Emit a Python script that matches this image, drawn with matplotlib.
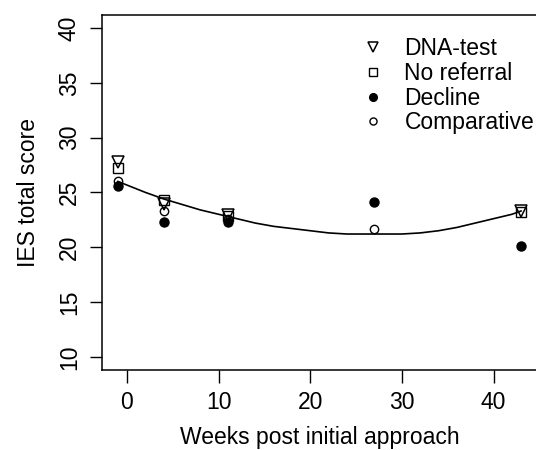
import matplotlib.pyplot as plt

plt.rcParams['font.family'] = ['Liberation Sans', 'DejaVu Sans']

# group means at each time point
weeks_dna = [-1, 4, 11, 43]
dna_test = [27.8, 23.9, 22.9, 23.3]
weeks_noref = [-1, 4, 11, 43]
no_referral = [27.2, 24.3, 22.8, 23.2]
weeks_decl = [-1, 4, 11, 27, 43]
decline = [25.6, 22.3, 22.3, 24.1, 20.1]
weeks_comp = [-1, 4, 11, 27]
comparative = [26.0, 23.3, 22.6, 21.7]

# fitted curve
fit_x = [-1, 2, 4, 6, 8, 11, 14, 16, 18, 20, 22, 24, 26, 28, 30, 32, 34, 36, 38, 40, 42, 43]
fit_y = [26.0, 25.0, 24.4, 23.9, 23.4, 22.8, 22.2, 21.9, 21.7, 21.5, 21.3, 21.2, 21.2,
         21.2, 21.2, 21.3, 21.5, 21.8, 22.2, 22.6, 23.0, 23.3]

fig = plt.figure(figsize=(5.36, 4.5), dpi=100)
ax = fig.add_axes([0.1897, 0.178, 0.8125, 0.789])

ax.plot(fit_x, fit_y, color='black', lw=1.2)
ax.plot(weeks_dna, dna_test, 'v', ms=9, mfc='none', mec='black', mew=1.1, label='DNA-test')
ax.plot(weeks_noref, no_referral, 's', ms=7, mfc='none', mec='black', mew=1.0, label='No referral')
ax.plot(weeks_decl, decline, 'o', ms=6.5, color='black', label='Decline')
ax.plot(weeks_comp, comparative, 'o', ms=6, mfc='none', mec='black', mew=1.0, label='Comparative')

ax.set_xlim(-2.76, 44.76)
ax.set_ylim(8.8, 41.2)
ax.set_xticks([0, 10, 20, 30, 40])
ax.set_yticks([10, 15, 20, 25, 30, 35, 40])
ax.tick_params(direction='out', length=9, width=1, labelsize=16.5, pad=6)
for lab in ax.get_yticklabels():
    lab.set_rotation(90)
    lab.set_va('center')
for s in ax.spines.values():
    s.set_linewidth(1.1)

ax.set_xlabel('Weeks post initial approach', fontsize=16.5, labelpad=9)
ax.set_ylabel('IES total score', fontsize=16.5, labelpad=13)

ax.legend(loc='upper left', bbox_to_anchor=(362 / 536, 1 - 37 / 450), bbox_transform=fig.transFigure,
          frameon=False, fontsize=16.5, handlelength=1.0, handletextpad=0.85, labelspacing=0.08,
          borderpad=0, borderaxespad=0, markerscale=0.85)

fig.savefig('out.png', dpi=100)
